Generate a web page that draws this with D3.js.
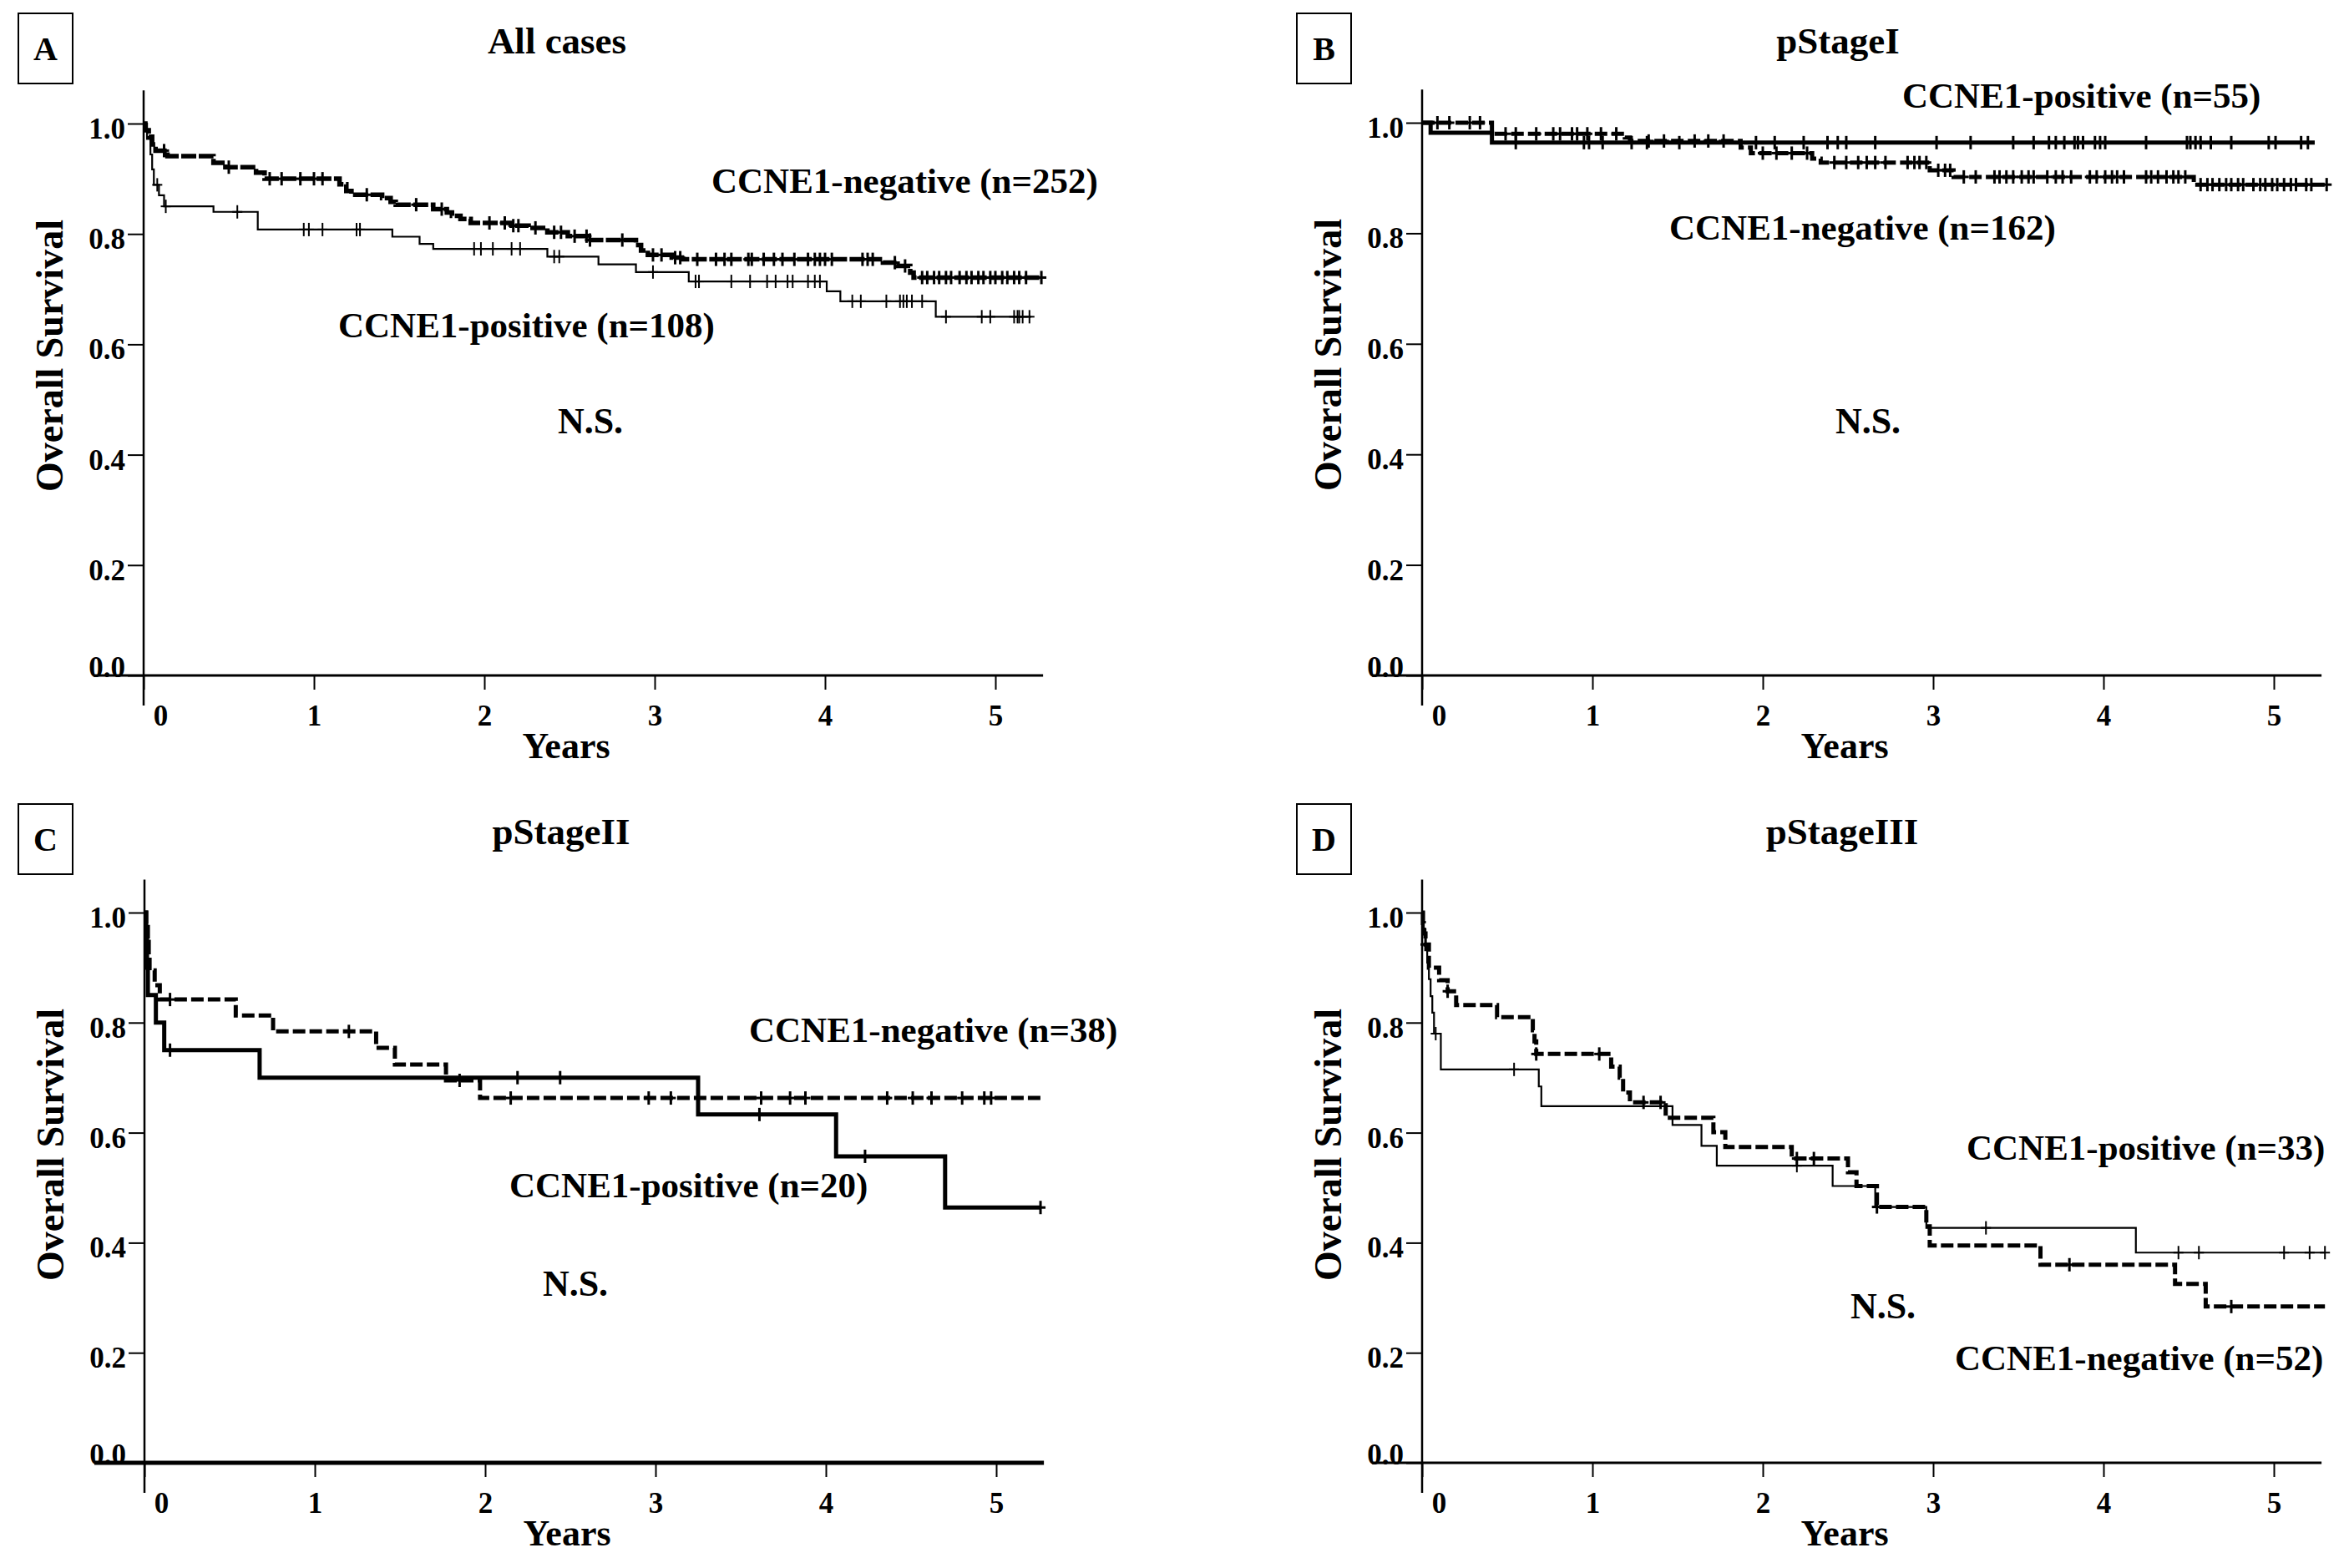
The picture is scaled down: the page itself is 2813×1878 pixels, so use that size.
<!DOCTYPE html>
<html>
<head>
<meta charset="utf-8">
<script src="https://d3js.org/d3.v7.min.js"></script>
<style>
    body { margin: 0; background: #fff; }
    svg { display: block; background: #fff; }
    text { font-family: "Liberation Serif", "Times New Roman", serif; font-weight: bold; fill: #000; }
</style>
</head>
<body>
<svg id="figure" width="2813" height="1878"></svg>
<script>
// ---- data: [years, survival] after each step ----
var yearTicks = [0, 1, 2, 3, 4, 5];
var survivalTicks = [0.0, 0.2, 0.4, 0.6, 0.8, 1.0];

// A: all cases
var allNegSteps = [[0, 1.0], [0.01, 0.988], [0.03, 0.976], [0.05, 0.962], [0.07, 0.951], [0.14, 0.941],
    [0.41, 0.929], [0.48, 0.921], [0.66, 0.911], [0.71, 0.900], [1.15, 0.890], [1.19, 0.878], [1.22, 0.871],
    [1.40, 0.865], [1.45, 0.858], [1.48, 0.853], [1.70, 0.845], [1.78, 0.839], [1.81, 0.833], [1.86, 0.827],
    [1.92, 0.820], [2.16, 0.815], [2.26, 0.811], [2.37, 0.803], [2.49, 0.796], [2.61, 0.789], [2.89, 0.780],
    [2.92, 0.770], [2.96, 0.762], [3.10, 0.757], [3.16, 0.754], [4.34, 0.748], [4.42, 0.742], [4.50, 0.730],
    [4.52, 0.721]];
var allNegEnd = 5.27;
var allNegCensored = [0.12, 0.50, 0.74, 0.81, 0.92, 1.00, 1.05, 1.31, 1.60, 1.75, 2.03, 2.12, 2.17, 2.20, 2.30,
    2.41, 2.45, 2.53, 2.60, 2.62, 2.81, 2.99, 3.04, 3.12, 3.15, 3.25, 3.36, 3.41, 3.45, 3.55, 3.57, 3.64, 3.70,
    3.75, 3.82, 3.90, 3.94, 3.97, 4.00, 4.04, 4.22, 4.25, 4.28, 4.41, 4.47, 4.57, 4.60, 4.64, 4.67, 4.71, 4.74,
    4.79, 4.83, 4.86, 4.90, 4.93, 4.97, 5.00, 5.04, 5.07, 5.11, 5.14, 5.18, 5.27];
var allPosSteps = [[0, 1.0], [0.02, 0.972], [0.04, 0.944], [0.05, 0.917], [0.06, 0.889], [0.09, 0.870],
    [0.12, 0.850], [0.41, 0.840], [0.67, 0.808], [1.46, 0.795], [1.62, 0.782], [1.70, 0.773], [2.37, 0.759],
    [2.67, 0.745], [2.89, 0.731], [3.20, 0.714], [4.01, 0.696], [4.09, 0.678], [4.65, 0.650]];
var allPosEnd = 5.21;
var allPosCensored = [0.08, 0.13, 0.55, 0.94, 0.97, 1.05, 1.25, 1.27, 1.94, 1.98, 2.05, 2.16, 2.21, 2.41, 2.44,
    2.99, 3.24, 3.26, 3.45, 3.56, 3.66, 3.71, 3.78, 3.81, 3.90, 3.94, 3.97, 4.16, 4.21, 4.36, 4.44, 4.46, 4.48,
    4.51, 4.57, 4.71, 4.92, 4.97, 5.11, 5.13, 5.14, 5.16, 5.20];

// B: pStage I
var s1PosSteps = [[0, 1.0], [0.05, 0.982], [0.41, 0.964]];
var s1PosEnd = 5.24;
var s1PosCensored = [0.55, 0.95, 0.98, 1.06, 1.23, 1.32, 1.51, 1.96, 2.07, 2.24, 2.38, 2.44, 2.49, 2.66, 3.02,
    3.22, 3.47, 3.59, 3.68, 3.72, 3.77, 3.83, 3.85, 3.88, 3.95, 3.98, 4.01, 4.25, 4.49, 4.51, 4.54, 4.57, 4.63,
    4.75, 4.97, 5.01, 5.16, 5.20];
var s1NegSteps = [[0, 1.0], [0.41, 0.980], [1.19, 0.973], [1.22, 0.967], [1.87, 0.955], [1.93, 0.945],
    [2.29, 0.935], [2.34, 0.928], [2.98, 0.914], [3.12, 0.902], [4.53, 0.888]];
var s1NegEnd = 5.31;
var s1NegCensored = [0.09, 0.16, 0.28, 0.34, 0.49, 0.55, 0.67, 0.77, 0.81, 0.88, 0.91, 0.97, 1.05, 1.14, 1.33,
    1.42, 1.60, 1.68, 1.77, 2.00, 2.08, 2.17, 2.26, 2.42, 2.49, 2.56, 2.61, 2.66, 2.72, 2.85, 2.89, 2.92, 2.96,
    3.03, 3.07, 3.10, 3.18, 3.25, 3.36, 3.39, 3.43, 3.47, 3.52, 3.56, 3.59, 3.67, 3.72, 3.76, 3.81, 3.92, 3.96,
    4.01, 4.05, 4.08, 4.12, 4.25, 4.28, 4.32, 4.37, 4.41, 4.44, 4.48, 4.57, 4.61, 4.64, 4.68, 4.72, 4.75, 4.79,
    4.82, 4.88, 4.92, 4.95, 4.99, 5.02, 5.06, 5.10, 5.13, 5.19, 5.22, 5.31];

// C: pStage II
var s2PosSteps = [[0, 1.0], [0.01, 0.95], [0.015, 0.90], [0.02, 0.85], [0.067, 0.80], [0.116, 0.75],
    [0.676, 0.70], [3.25, 0.633], [4.06, 0.557], [4.70, 0.464]];
var s2PosEnd = 5.26;
var s2PosCensored = [0.15, 2.19, 2.44, 3.61, 4.23, 5.26];
var s2NegSteps = [[0, 1.0], [0.01, 0.974], [0.02, 0.947], [0.025, 0.921], [0.03, 0.895], [0.06, 0.868],
    [0.09, 0.842], [0.536, 0.813], [0.755, 0.784], [1.36, 0.754], [1.47, 0.724], [1.77, 0.695], [1.97, 0.663]];
var s2NegEnd = 5.28;
var s2NegCensored = [0.15, 1.20, 1.85, 2.15, 2.96, 3.09, 3.62, 3.79, 3.88, 4.36, 4.51, 4.62, 4.80, 4.93, 4.97];

// D: pStage III
var s3PosSteps = [[0, 1.0], [0.01, 0.970], [0.02, 0.939], [0.03, 0.909], [0.04, 0.879], [0.05, 0.848],
    [0.06, 0.818], [0.07, 0.780], [0.11, 0.715], [0.685, 0.684], [0.70, 0.648], [1.47, 0.614], [1.64, 0.576],
    [1.73, 0.540], [2.41, 0.503], [2.66, 0.465], [2.96, 0.427], [4.19, 0.382]];
var s3PosEnd = 5.30;
var s3PosCensored = [0.08, 0.54, 2.20, 3.31, 4.44, 4.56, 5.06, 5.21, 5.30];
var s3NegSteps = [[0, 1.0], [0.005, 0.981], [0.01, 0.962], [0.02, 0.942], [0.04, 0.900], [0.10, 0.877],
    [0.15, 0.857], [0.20, 0.832], [0.44, 0.810], [0.65, 0.786], [0.66, 0.766], [0.67, 0.743], [1.11, 0.720],
    [1.16, 0.700], [1.18, 0.673], [1.22, 0.655], [1.43, 0.627], [1.71, 0.601], [1.78, 0.574], [2.17, 0.553],
    [2.50, 0.528], [2.55, 0.503], [2.67, 0.465], [2.96, 0.430], [2.98, 0.395], [3.63, 0.360], [4.42, 0.325],
    [4.60, 0.284]];
var s3NegEnd = 5.30;
var s3NegCensored = [0.02, 0.15, 0.67, 1.04, 1.30, 1.40, 2.20, 2.30, 2.67, 3.80, 4.75];

// ---- layout of the four panels ----
var panels = [
    {letter: "A", title: "All cases", ox: 172, top: 148, bottom: 809, boxX: 22, boxY: 16, titleX: 667,
        series: [
            {steps: allNegSteps, end: allNegEnd, censored: allNegCensored, kind: "denseDash"},
            {steps: allPosSteps, end: allPosEnd, censored: allPosCensored, kind: "thin"}],
        labels: [
            {text: "CCNE1-negative (n=252)", x: 852, y: 231, anchor: "start"},
            {text: "CCNE1-positive (n=108)", x: 405, y: 404, anchor: "start"},
            {text: "N.S.", x: 707, y: 519, anchor: "middle"}]},
    {letter: "B", title: "pStageI", ox: 1703, top: 147, bottom: 809, boxX: 1553, boxY: 16, titleX: 2201,
        series: [
            {steps: s1NegSteps, end: s1NegEnd, censored: s1NegCensored, kind: "thickDash"},
            {steps: s1PosSteps, end: s1PosEnd, censored: s1PosCensored, kind: "thick"}],
        labels: [
            {text: "CCNE1-positive (n=55)", x: 2278, y: 129, anchor: "start"},
            {text: "CCNE1-negative (n=162)", x: 1999, y: 287, anchor: "start"},
            {text: "N.S.", x: 2237, y: 519, anchor: "middle"}]},
    {letter: "C", title: "pStageII", ox: 173, top: 1093, bottom: 1752, boxX: 22, boxY: 963, titleX: 672,
        xAxisWidth: 5,
        series: [
            {steps: s2NegSteps, end: s2NegEnd, censored: s2NegCensored, kind: "thickDash"},
            {steps: s2PosSteps, end: s2PosEnd, censored: s2PosCensored, kind: "thick"}],
        labels: [
            {text: "CCNE1-negative (n=38)", x: 897, y: 1248, anchor: "start"},
            {text: "CCNE1-positive (n=20)", x: 610, y: 1434, anchor: "start"},
            {text: "N.S.", x: 689, y: 1552, anchor: "middle"}]},
    {letter: "D", title: "pStageIII", ox: 1703, top: 1093, bottom: 1752, boxX: 1553, boxY: 963, titleX: 2206,
        series: [
            {steps: s3NegSteps, end: s3NegEnd, censored: s3NegCensored, kind: "thickDash"},
            {steps: s3PosSteps, end: s3PosEnd, censored: s3PosCensored, kind: "thin"}],
        labels: [
            {text: "CCNE1-positive (n=33)", x: 2355, y: 1389, anchor: "start"},
            {text: "CCNE1-negative (n=52)", x: 2341, y: 1641, anchor: "start"},
            {text: "N.S.", x: 2255, y: 1579, anchor: "middle"}]}
];

var lineStyles = {
    thick: {width: 5, dash: null, tick: 3},
    thickDash: {width: 5, dash: "15,5", tick: 3},
    denseDash: {width: 5.5, dash: "18,3", tick: 3},
    thin: {width: 2.2, dash: null, tick: 2}
};

var svg = d3.select("#figure");

// survival value of a step curve at time t
function survivalAt(steps, t) {
    var v = steps[0][1];
    for (var i = 0; i < steps.length; i++) {
        if (steps[i][0] <= t) v = steps[i][1];
    }
    return v;
}

function drawPanel(p) {
    var g = svg.append("g").attr("class", "panel-" + p.letter);
    var yearWidth = 204;

    var x = d3.scaleLinear().domain([0, 5]).range([p.ox, p.ox + 5 * yearWidth]);
    var y = d3.scaleLinear().domain([0, 1]).range([p.bottom, p.top]);

    // panel letter in a box
    g.append("rect")
        .attr("x", p.boxX).attr("y", p.boxY)
        .attr("width", 65).attr("height", 84)
        .attr("fill", "none").attr("stroke", "#000").attr("stroke-width", 2);
    g.append("text")
        .attr("x", p.boxX + 32.5).attr("y", p.boxY + 42)
        .attr("dy", "0.35em")
        .attr("text-anchor", "middle")
        .attr("font-size", 40)
        .text(p.letter);

    // title
    g.append("text")
        .attr("x", p.titleX).attr("y", p.boxY + 48)
        .attr("text-anchor", "middle")
        .attr("font-size", 45)
        .text(p.title);

    // Y axis
    var yAxis = g.append("g")
        .attr("transform", "translate(" + p.ox + ",0)")
        .call(d3.axisLeft(y).tickValues(survivalTicks).tickFormat(d3.format(".1f"))
            .tickSize(19).tickPadding(3));
    yAxis.select(".domain").remove();
    yAxis.selectAll(".tick line").attr("stroke", "#000").attr("stroke-width", 2);
    yAxis.selectAll(".tick text")
        .attr("font-size", 35)
        .attr("dy", function (d) { return d === 0 ? "0.05em" : "0.5em"; });

    g.append("line")
        .attr("x1", p.ox).attr("x2", p.ox)
        .attr("y1", y(1.06)).attr("y2", p.bottom + 36)
        .attr("stroke", "#000").attr("stroke-width", 2.5);

    // X axis
    var xAxis = g.append("g")
        .attr("transform", "translate(0," + p.bottom + ")")
        .call(d3.axisBottom(x).tickValues(yearTicks).tickFormat(d3.format("d"))
            .tickSize(17).tickPadding(18));
    xAxis.select(".domain").remove();
    xAxis.selectAll(".tick line").attr("stroke", "#000").attr("stroke-width", 2);
    xAxis.selectAll(".tick text")
        .attr("font-size", 35)
        .attr("x", function (d) { return d === 0 ? 20 : 0; });

    g.append("line")
        .attr("x1", p.ox - 60).attr("x2", x(5.28))
        .attr("y1", p.bottom).attr("y2", p.bottom)
        .attr("stroke", "#000").attr("stroke-width", p.xAxisWidth || 3);

    // axis titles
    g.append("text")
        .attr("transform", "translate(" + (p.ox - 113) + "," + (p.top + 278) + ") rotate(-90)")
        .attr("dy", "0.35em")
        .attr("text-anchor", "middle")
        .attr("font-size", 46)
        .text("Overall Survival");
    g.append("text")
        .attr("x", p.ox + 506).attr("y", p.bottom + 99)
        .attr("text-anchor", "middle")
        .attr("font-size", 44)
        .text("Years");

    // survival curves
    var line = d3.line()
        .x(function (d) { return x(d[0]); })
        .y(function (d) { return y(d[1]); })
        .curve(d3.curveStepAfter);

    p.series.forEach(function (s) {
        var st = lineStyles[s.kind];
        var pts = s.steps.concat([[s.end, s.steps[s.steps.length - 1][1]]]);
        g.append("path")
            .datum(pts)
            .attr("d", line)
            .attr("fill", "none")
            .attr("stroke", "#000")
            .attr("stroke-width", st.width)
            .attr("stroke-dasharray", st.dash);

        // censor marks
        var marks = g.append("g").selectAll("g")
            .data(s.censored)
            .enter().append("g")
            .attr("transform", function (t) {
                return "translate(" + x(t) + "," + y(survivalAt(s.steps, t)) + ")";
            });
        marks.append("line")
            .attr("x1", 0).attr("x2", 0).attr("y1", -8).attr("y2", 8)
            .attr("stroke", "#000").attr("stroke-width", st.tick);
        marks.append("line")
            .attr("x1", -6).attr("x2", 6).attr("y1", 0).attr("y2", 0)
            .attr("stroke", "#000").attr("stroke-width", st.tick);
    });

    // group labels
    g.selectAll(".group-label")
        .data(p.labels)
        .enter().append("text")
        .attr("class", "group-label")
        .attr("x", function (d) { return d.x; })
        .attr("y", function (d) { return d.y; })
        .attr("text-anchor", function (d) { return d.anchor; })
        .attr("font-size", function (d) { return d.text === "N.S." ? 44 : 43; })
        .text(function (d) { return d.text; });
}

panels.forEach(drawPanel);
</script>
</body>
</html>
